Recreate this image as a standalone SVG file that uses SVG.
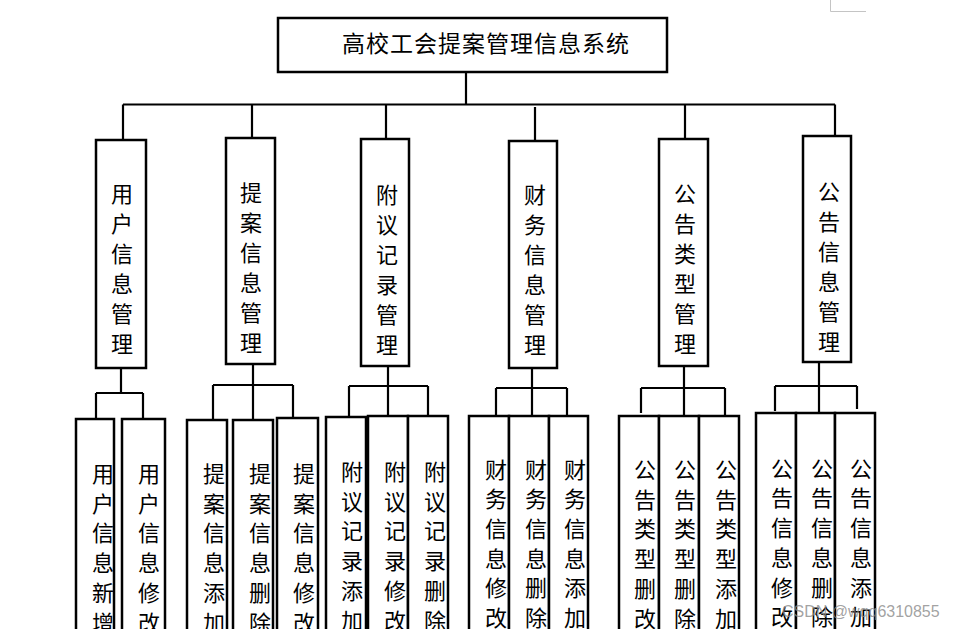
<svg xmlns="http://www.w3.org/2000/svg" width="961" height="629" viewBox="0 0 961 629">
<style>
.box{fill:#fff;stroke:#000;stroke-width:2.5}
.ln{stroke:#000;stroke-width:2.2;fill:none}
.t{font-family:"Noto Sans CJK SC","Noto Sans",sans-serif;font-size:22px;fill:#000;text-anchor:middle;dominant-baseline:central}
.title{font-family:"Noto Sans CJK SC","Noto Sans",sans-serif;font-size:23px;fill:#000;dominant-baseline:central;letter-spacing:1px}
.wm{font-family:"Liberation Sans",Arial,sans-serif;font-size:16px;fill:#8a8a8a;fill-opacity:0.8}
</style>
<rect x="0" y="0" width="961" height="629" fill="#fff"/>
<path d="M830.5 0V11.5H866" stroke="#c4c4c4" stroke-width="1" fill="none"/>

<g id="connectors">
<path class="ln" d="M466 72V104.5M123 104.5H835M123 104.5V140M252 104.5V138M386 104.5V139M535 107V141M685 104.5V139M835 104.5V136"/>
<path class="ln" d="M121 368V393M96 393H143M96 393V419M143 393V419"/>
<path class="ln" d="M253 364V420M213 385H293M213 385V420M293 385V418"/>
<path class="ln" d="M388 366V416M349 386H428M349 386V417M428 386V416"/>
<path class="ln" d="M532 368V416M496 388H567M496 388V416M567 388V416"/>
<path class="ln" d="M684 366V416M641 388H725M641 388V413M725 388V416"/>
<path class="ln" d="M819 362V413M775 386H857M775 386V411M857 386V409"/>
</g>

<g id="root">
<rect class="box" x="278" y="18" width="389" height="54"/>
<text class="title" x="342" y="42">高校工会提案管理信息系统</text>
</g>

<g id="n1"><rect class="box" x="96" y="140" width="50" height="228"/>
<text class="t"><tspan x="122" y="192">用</tspan><tspan x="122" y="222">户</tspan><tspan x="122" y="252">信</tspan><tspan x="122" y="282">息</tspan><tspan x="122" y="312">管</tspan><tspan x="122" y="342">理</tspan></text></g>
<g id="n2"><rect class="box" x="226" y="138" width="49" height="226"/>
<text class="t"><tspan x="251" y="191">提</tspan><tspan x="251" y="221">案</tspan><tspan x="251" y="251">信</tspan><tspan x="251" y="281">息</tspan><tspan x="251" y="311">管</tspan><tspan x="251" y="341">理</tspan></text></g>
<g id="n3"><rect class="box" x="361" y="139" width="48" height="227"/>
<text class="t"><tspan x="387" y="193">附</tspan><tspan x="387" y="223">议</tspan><tspan x="387" y="253">记</tspan><tspan x="387" y="283">录</tspan><tspan x="387" y="313">管</tspan><tspan x="387" y="343">理</tspan></text></g>
<g id="n4"><rect class="box" x="509" y="141" width="48" height="227"/>
<text class="t"><tspan x="535" y="193">财</tspan><tspan x="535" y="223">务</tspan><tspan x="535" y="253">信</tspan><tspan x="535" y="283">息</tspan><tspan x="535" y="313">管</tspan><tspan x="535" y="343">理</tspan></text></g>
<g id="n5"><rect class="box" x="659" y="139" width="49" height="227"/>
<text class="t"><tspan x="685" y="192">公</tspan><tspan x="685" y="222">告</tspan><tspan x="685" y="252">类</tspan><tspan x="685" y="282">型</tspan><tspan x="685" y="312">管</tspan><tspan x="685" y="342">理</tspan></text></g>
<g id="n6"><rect class="box" x="803" y="136" width="48" height="226"/>
<text class="t"><tspan x="829" y="190">公</tspan><tspan x="829" y="220">告</tspan><tspan x="829" y="250">信</tspan><tspan x="829" y="280">息</tspan><tspan x="829" y="310">管</tspan><tspan x="829" y="340">理</tspan></text></g>

<g id="a1"><rect class="box" x="76" y="419" width="38" height="260"/>
<text class="t"><tspan x="103" y="472">用</tspan><tspan x="103" y="501.7">户</tspan><tspan x="103" y="531.4">信</tspan><tspan x="103" y="561.1">息</tspan><tspan x="103" y="590.8">新</tspan><tspan x="103" y="620.5">增</tspan></text></g>
<g id="a2"><rect class="box" x="122" y="419" width="43" height="260"/>
<text class="t"><tspan x="149" y="472">用</tspan><tspan x="149" y="501.7">户</tspan><tspan x="149" y="531.4">信</tspan><tspan x="149" y="561.1">息</tspan><tspan x="149" y="590.8">修</tspan><tspan x="149" y="620.5">改</tspan></text></g>

<g id="b1"><rect class="box" x="187" y="420" width="40" height="260"/>
<text class="t"><tspan x="214" y="472">提</tspan><tspan x="214" y="501.7">案</tspan><tspan x="214" y="531.4">信</tspan><tspan x="214" y="561.1">息</tspan><tspan x="214" y="590.8">添</tspan><tspan x="214" y="620.5">加</tspan></text></g>
<g id="b2"><rect class="box" x="233" y="420" width="40" height="260"/>
<text class="t"><tspan x="260" y="472">提</tspan><tspan x="260" y="501.7">案</tspan><tspan x="260" y="531.4">信</tspan><tspan x="260" y="561.1">息</tspan><tspan x="260" y="590.8">删</tspan><tspan x="260" y="620.5">除</tspan></text></g>
<g id="b3"><rect class="box" x="277" y="418" width="41" height="260"/>
<text class="t"><tspan x="304" y="472">提</tspan><tspan x="304" y="501.7">案</tspan><tspan x="304" y="531.4">信</tspan><tspan x="304" y="561.1">息</tspan><tspan x="304" y="590.8">修</tspan><tspan x="304" y="620.5">改</tspan></text></g>

<g id="c1"><rect class="box" x="326" y="417" width="40" height="260"/>
<text class="t"><tspan x="352" y="470">附</tspan><tspan x="352" y="499.7">议</tspan><tspan x="352" y="529.4">记</tspan><tspan x="352" y="559.1">录</tspan><tspan x="352" y="588.8">添</tspan><tspan x="352" y="618.5">加</tspan></text></g>
<g id="c2"><rect class="box" x="368" y="416" width="40" height="260"/>
<text class="t"><tspan x="395" y="470">附</tspan><tspan x="395" y="499.7">议</tspan><tspan x="395" y="529.4">记</tspan><tspan x="395" y="559.1">录</tspan><tspan x="395" y="588.8">修</tspan><tspan x="395" y="618.5">改</tspan></text></g>
<g id="c3"><rect class="box" x="408" y="416" width="40" height="260"/>
<text class="t"><tspan x="435" y="470">附</tspan><tspan x="435" y="499.7">议</tspan><tspan x="435" y="529.4">记</tspan><tspan x="435" y="559.1">录</tspan><tspan x="435" y="588.8">删</tspan><tspan x="435" y="618.5">除</tspan></text></g>

<g id="d1"><rect class="box" x="469" y="416" width="40" height="260"/>
<text class="t"><tspan x="496" y="467.5">财</tspan><tspan x="496" y="497.2">务</tspan><tspan x="496" y="526.9">信</tspan><tspan x="496" y="556.6">息</tspan><tspan x="496" y="586.3">修</tspan><tspan x="496" y="616">改</tspan></text></g>
<g id="d2"><rect class="box" x="509" y="416" width="40" height="260"/>
<text class="t"><tspan x="536" y="467.5">财</tspan><tspan x="536" y="497.2">务</tspan><tspan x="536" y="526.9">信</tspan><tspan x="536" y="556.6">息</tspan><tspan x="536" y="586.3">删</tspan><tspan x="536" y="616">除</tspan></text></g>
<g id="d3"><rect class="box" x="549" y="416" width="39" height="260"/>
<text class="t"><tspan x="575" y="467.5">财</tspan><tspan x="575" y="497.2">务</tspan><tspan x="575" y="526.9">信</tspan><tspan x="575" y="556.6">息</tspan><tspan x="575" y="586.3">添</tspan><tspan x="575" y="616">加</tspan></text></g>

<g id="e1"><rect class="box" x="619" y="416" width="40" height="260"/>
<text class="t"><tspan x="645" y="468">公</tspan><tspan x="645" y="497.7">告</tspan><tspan x="645" y="527.4">类</tspan><tspan x="645" y="557.1">型</tspan><tspan x="645" y="586.8">删</tspan><tspan x="645" y="616.5">改</tspan></text></g>
<g id="e2"><rect class="box" x="659" y="416" width="40" height="260"/>
<text class="t"><tspan x="685" y="468">公</tspan><tspan x="685" y="497.7">告</tspan><tspan x="685" y="527.4">类</tspan><tspan x="685" y="557.1">型</tspan><tspan x="685" y="586.8">删</tspan><tspan x="685" y="616.5">除</tspan></text></g>
<g id="e3"><rect class="box" x="699" y="416" width="40" height="260"/>
<text class="t"><tspan x="726" y="468">公</tspan><tspan x="726" y="497.7">告</tspan><tspan x="726" y="527.4">类</tspan><tspan x="726" y="557.1">型</tspan><tspan x="726" y="586.8">添</tspan><tspan x="726" y="616.5">加</tspan></text></g>

<g id="f1"><rect class="box" x="756" y="413" width="40" height="260"/>
<text class="t"><tspan x="782" y="466.7">公</tspan><tspan x="782" y="496.4">告</tspan><tspan x="782" y="526.1">信</tspan><tspan x="782" y="555.8">息</tspan><tspan x="782" y="585.5">修</tspan><tspan x="782" y="615.2">改</tspan></text></g>
<g id="f2"><rect class="box" x="796" y="413" width="39" height="260"/>
<text class="t"><tspan x="822" y="466.7">公</tspan><tspan x="822" y="496.4">告</tspan><tspan x="822" y="526.1">信</tspan><tspan x="822" y="555.8">息</tspan><tspan x="822" y="585.5">删</tspan><tspan x="822" y="615.2">除</tspan></text></g>
<g id="f3"><rect class="box" x="835" y="413" width="40" height="260"/>
<text class="t"><tspan x="861" y="466.7">公</tspan><tspan x="861" y="496.4">告</tspan><tspan x="861" y="526.1">信</tspan><tspan x="861" y="555.8">息</tspan><tspan x="861" y="585.5">添</tspan><tspan x="861" y="615.2">加</tspan></text></g>

<text class="wm" x="782" y="617">CSDN @wqq6310855</text>
</svg>
